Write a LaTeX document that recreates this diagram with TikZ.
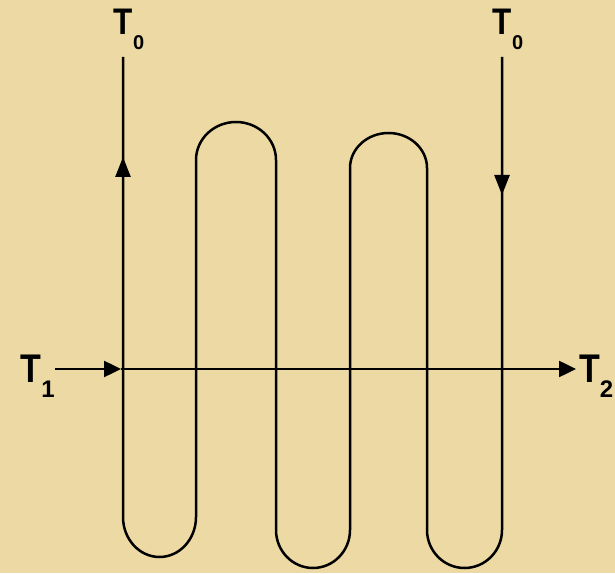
\documentclass[tikz,border=0pt]{standalone}
\usepackage{fontspec}
\setmainfont{Liberation Sans}
\usetikzlibrary{arrows.meta,positioning}

\definecolor{papyrus}{RGB}{236,217,163}
\newcommand{\tlabel}[3]{\scalebox{0.85}[1]{T}\rlap{\hspace{#3}\raisebox{-15pt}{\fontsize{#2}{#2}\selectfont #1}}}

\tikzset{
  tube/.style={line width=2.5pt, line join=round},
  flow/.style={tube, -{Triangle[length=20pt,width=15pt]}},
  hflow/.style={tube, -{Triangle[length=17pt,width=16pt]}},
  tbig/.style={inner sep=0pt, anchor=base, font=\fontsize{40}{44}\selectfont\bfseries},
  tsmall/.style={inner sep=0pt, anchor=base, font=\fontsize{37}{40}\selectfont\bfseries}
}

\begin{document}
\begin{tikzpicture}[x=1pt,y=1pt]
  \useasboundingbox[fill=papyrus] (0,0) rectangle (615,573);

  % labels
  \node[tsmall] (t0in)  at (123.5,538) {\tlabel{0}{20}{0pt}};
  \node[tsmall] (t0out) at (502.5,538) {\tlabel{0}{20}{0pt}};
  \node[tbig]   (t1)    at (31,190)    {\tlabel{1}{24}{0pt}};
  \node[tbig]   (t2)    at (589.5,190) {\tlabel{2}{24}{0pt}};

  % ends of the serpentine
  \coordinate (outtop) at (502,516);
  \coordinate (intop)  at (123,516);
  \coordinate (outtip) at (502,378);
  \coordinate (inbase) at (123,380);
  \coordinate (intip)  at (123,416);

  % serpentine tube
  \draw[tube] (outtop) -- (502,43)
    arc[start angle=0,end angle=-180,x radius=37.5,y radius=38] -- (427,405)
    arc[start angle=0,end angle=180,x radius=38.5,y radius=35] -- (350,43)
    arc[start angle=0,end angle=-180,x radius=37,y radius=38] -- (276,413)
    arc[start angle=0,end angle=180,x radius=40,y radius=38] -- (196,56)
    arc[start angle=0,end angle=-180,x radius=36.5,y radius=40] -- (intop);

  % direction arrows on the tube
  \draw[flow] (inbase) -- (intip);
  \draw[flow] (outtop) -- (outtip);

  % cross flow T1 -> T2
  \coordinate (hstart) at (55,204);
  \coordinate (hmid)   at (121,204);
  \coordinate (hend)   at (576,204);
  \draw[hflow] (hstart) -- (hmid);
  \draw[hflow] (hmid) -- (hend);
\end{tikzpicture}
\end{document}
